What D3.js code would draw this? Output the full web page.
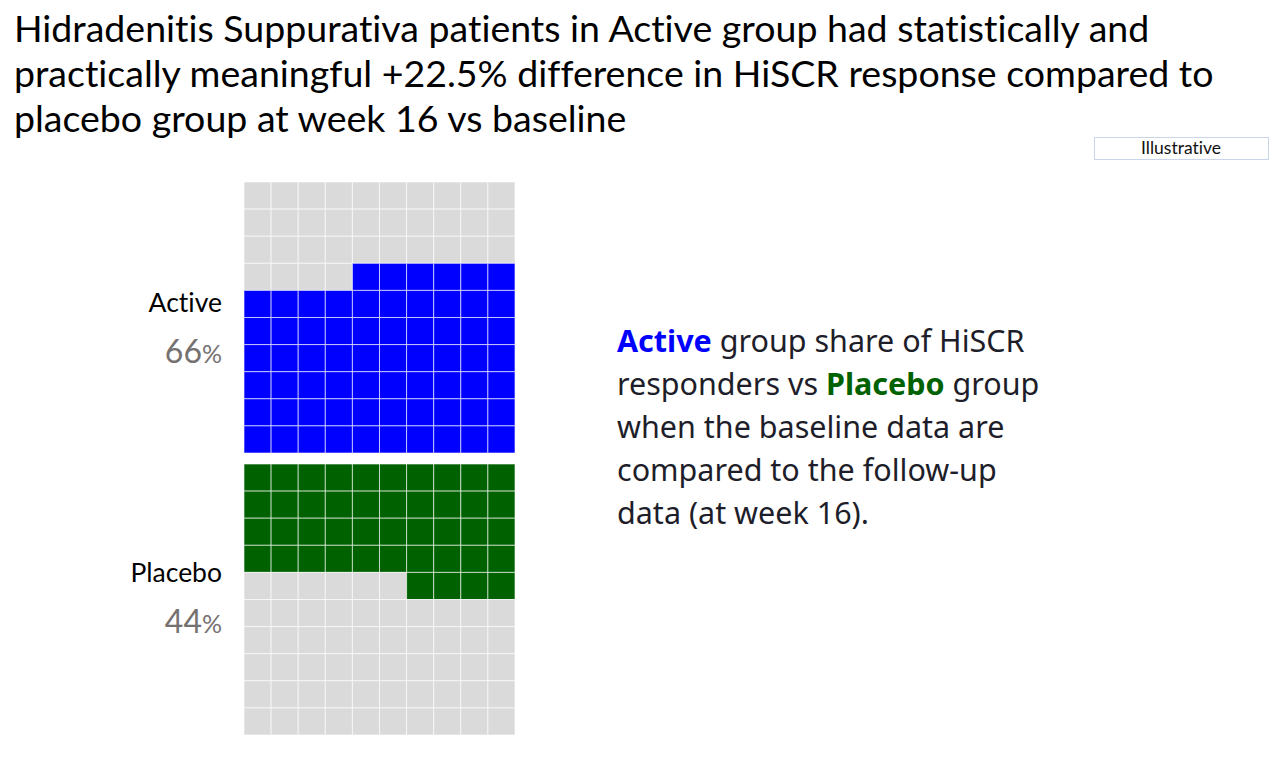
<!DOCTYPE html>
<html>
<head>
<meta charset="utf-8">
<script src="https://cdn.jsdelivr.net/npm/d3@7"></script>
<style>
  html, body { margin: 0; padding: 0; background: #ffffff; }
  svg { display: block; }
  text { font-variant-ligatures: none; }
</style>
</head>
<body>
<svg id="chart" width="1287" height="757"></svg>
<script>
// data
const titleLines = [
  "Hidradenitis Suppurativa patients in Active group had statistically and",
  "practically meaningful +22.5% difference in HiSCR response compared to",
  "placebo group at week 16 vs baseline"
];
const groups = ["Active", "Placebo"];
const shares = [66, 44];          // % of HiSCR responders, one cell = 1%
const fillFrom = ["bottom", "top"];
const noteLines = [
  [{ t: "Active", k: "Active" }, { t: " group share of HiSCR" }],
  [{ t: "responders vs " }, { t: "Placebo", k: "Placebo" }, { t: " group" }],
  [{ t: "when the baseline data are" }],
  [{ t: "compared to the follow-up" }],
  [{ t: "data (at week 16)." }]
];

const colors = { Active: "#0000ff", Placebo: "#006100", empty: "#dadada" };
const titleFont = "Lato, 'Open Sans', sans-serif";
const noteFont = "'Noto Sans', 'Open Sans', sans-serif";

const svg = d3.select("#chart");

// title
svg.append("g").selectAll("text")
  .data(titleLines)
  .join("text")
  .attr("x", 14)
  .attr("y", (d, i) => 42 + i * 45)
  .attr("font-family", titleFont)
  .attr("font-size", 37.5)
  .attr("fill", "#000")
  .text(d => d);

// illustrative tag
const tag = svg.append("g");
tag.append("rect")
  .attr("x", 1094.5).attr("y", 137.5)
  .attr("width", 174).attr("height", 22)
  .attr("fill", "#fff").attr("stroke", "#c9d5ea");
tag.append("text")
  .attr("x", 1181).attr("y", 154)
  .attr("text-anchor", "middle")
  .attr("font-family", titleFont)
  .attr("font-size", 17.5)
  .attr("fill", "#111")
  .text("Illustrative");

// waffles
const cols = d3.range(10), rows = d3.range(10);
const x = d3.scaleBand().domain(cols).range([244, 515]);
const gridTops = [182, 464];

groups.forEach((grp, gi) => {
  const y = d3.scaleBand().domain(rows).range([gridTops[gi], gridTops[gi] + 271]);
  const cells = [];
  rows.forEach(r => cols.forEach(c => {
    const order = fillFrom[gi] === "bottom" ? (9 - r) * 10 + (9 - c) : r * 10 + (9 - c);
    cells.push({ r, c, on: order < shares[gi] });
  }));

  const g = svg.append("g");
  g.selectAll("rect")
    .data(cells)
    .join("rect")
    .attr("x", d => x(d.c))
    .attr("y", d => y(d.r))
    .attr("width", x.bandwidth())
    .attr("height", y.bandwidth())
    .attr("fill", d => d.on ? colors[grp] : colors.empty)
    .attr("stroke", "rgba(255,255,255,0.6)")
    .attr("stroke-width", 1);

  // labels
  const labY = gi === 0 ? 312 : 582;
  svg.append("text")
    .attr("x", 222).attr("y", labY)
    .attr("text-anchor", "end")
    .attr("font-family", titleFont)
    .attr("font-size", 26.5)
    .attr("fill", "#000")
    .text(grp);

  const pct = svg.append("text")
    .attr("x", 222).attr("y", labY + 51)
    .attr("text-anchor", "end")
    .attr("font-family", titleFont)
    .attr("fill", "#767171");
  pct.append("tspan").attr("font-size", 32).text(shares[gi]);
  pct.append("tspan").attr("font-size", 25).text("%");
});

// side note
const note = svg.append("g");
noteLines.forEach((line, i) => {
  const t = note.append("text")
    .attr("x", 617)
    .attr("y", 352 + i * 43)
    .attr("font-family", noteFont)
    .attr("font-size", 30.5)
    .attr("fill", "#1e1e2a");
  line.forEach(p => {
    t.append("tspan")
      .attr("font-weight", p.k ? 700 : 400)
      .attr("fill", p.k ? colors[p.k] : null)
      .text(p.t);
  });
});
</script>
</body>
</html>
